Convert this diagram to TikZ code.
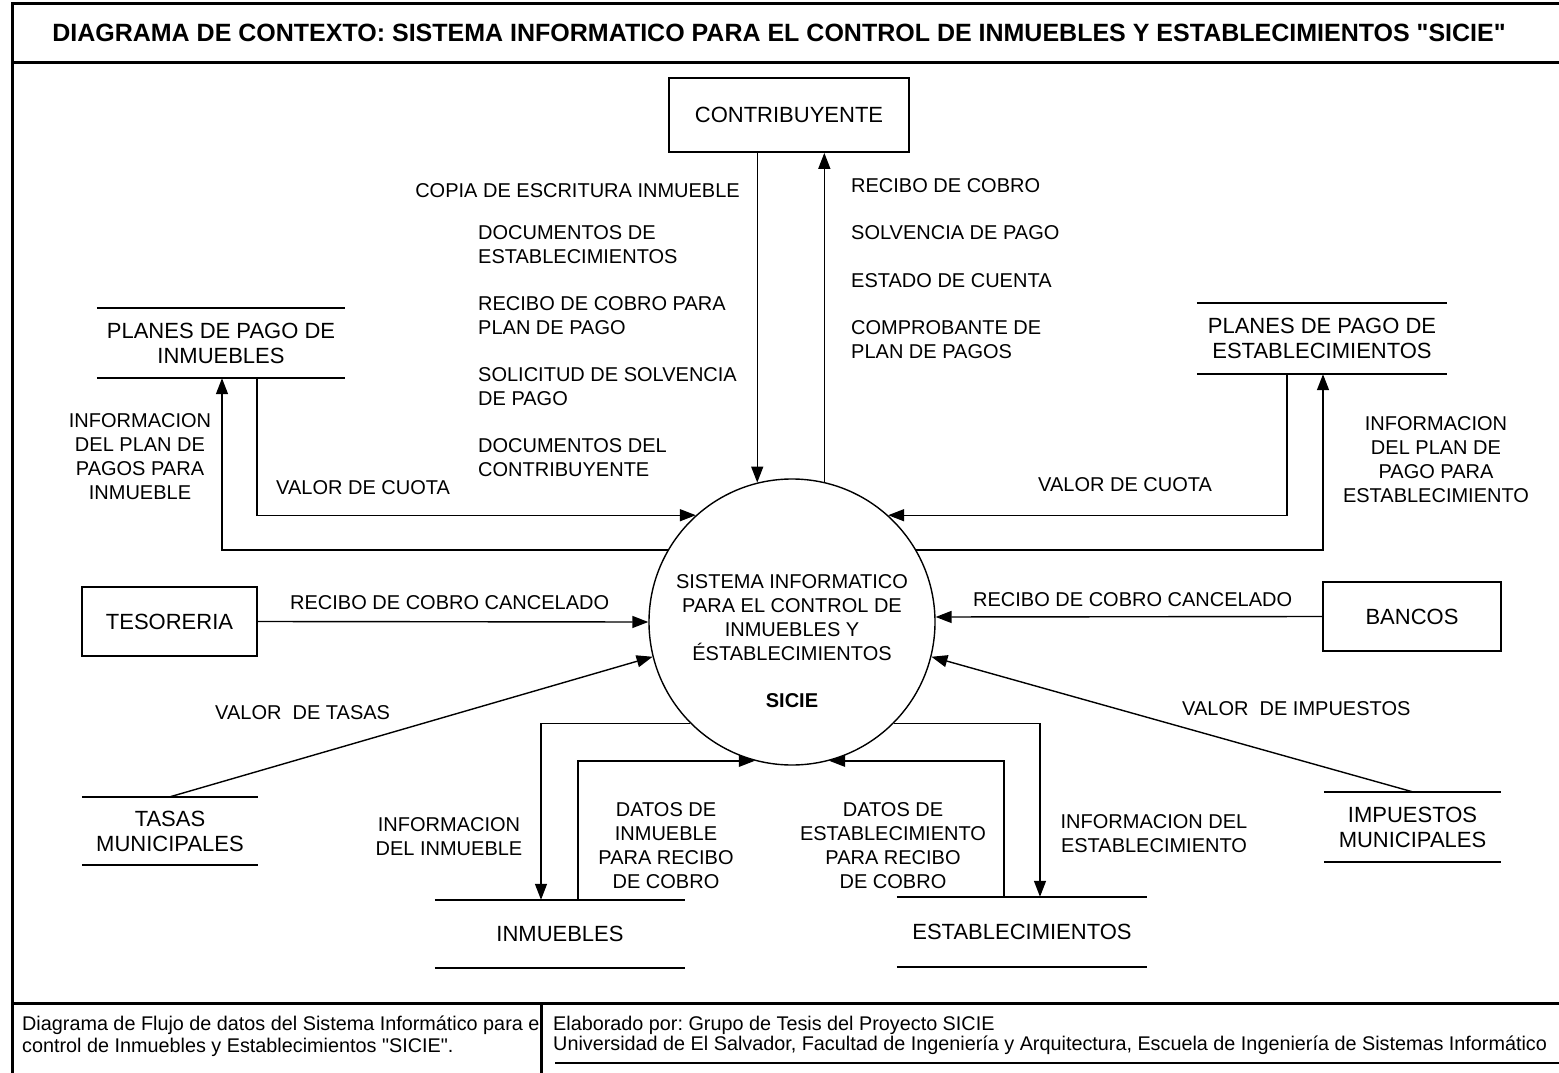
\documentclass[tikz,border=0pt]{standalone}
\usepackage{fontspec}
\setmainfont{Liberation Sans}
% same family without the TeX quote mapping, for straight double quotes
\newfontfamily\qtfont{Liberation Sans}
\usetikzlibrary{arrows.meta}
\frenchspacing

\newcommand{\sq}{{\qtfont\char34}}

\tikzset{
  frameline/.style={line width=3pt},
  entity/.style={draw, line width=1.8pt, inner sep=0pt, font=\fontsize{22}{25}\selectfont},
  store/.style={inner sep=0pt, align=center, font=\fontsize{22}{25}\selectfont},
  storeline/.style={line width=1.8pt},
  lbl/.style={inner sep=0pt, font=\fontsize{20}{24}\selectfont},
  flow/.style={line width=1.4pt, -{Triangle[length=16pt,width=12pt]}},
  foot/.style={inner sep=0pt, anchor=west, font=\fontsize{19.8}{22}\selectfont}
}

\begin{document}
\begin{tikzpicture}[x=1pt,y=-1pt]
\useasboundingbox (0,0) rectangle (1559,1073);

% outer frame, title bar and footer
\draw[frameline] (12,1073) -- (12,4) -- (1565,4);
\draw[frameline] (12,63) -- (1565,63);
\draw[frameline] (12,1003) -- (1565,1003);
\draw[frameline] (541,1003) -- (541,1073);
\draw[line width=1.5pt] (555,1063) -- (1565,1063);

\node[inner sep=0pt, font=\fontsize{25}{28}\selectfont\bfseries] (title) at (779,33)
  {DIAGRAMA DE CONTEXTO: SISTEMA INFORMATICO PARA EL CONTROL DE INMUEBLES Y ESTABLECIMIENTOS \sq SICIE\sq};

\node[foot] (f1) at (22,1025) {Diagrama de Flujo de datos del Sistema Informático para e};
\node[foot] (f2) at (22,1047) {control de Inmuebles y Establecimientos \sq SICIE\sq .};
\node[foot] (f3) at (553,1025) {Elaborado por: Grupo de Tesis del Proyecto SICIE};
\node[foot] (f4) at (553,1045) {Universidad de El Salvador, Facultad de Ingeniería y Arquitectura, Escuela de Ingeniería de Sistemas Informático};

% central process
\node[draw, circle, line width=1.4pt, minimum size=286pt, inner sep=0pt] (sicie) at (792,622) {};
\node[lbl, align=center] (sicietxt) at (792,618)
  {SISTEMA INFORMATICO\\PARA EL CONTROL DE\\INMUEBLES Y\\ÉSTABLECIMIENTOS};
\node[lbl, font=\fontsize{20}{24}\selectfont\bfseries] (siciename) at (792,701) {SICIE};

% external entities
\node[entity, minimum width=240pt, minimum height=74pt] (contrib) at (789,115) {CONTRIBUYENTE};
\node[entity, minimum width=175pt, minimum height=69pt] (teso) at (169.5,621.5) {TESORERIA};
\node[entity, minimum width=178pt, minimum height=69pt] (bancos) at (1412,616.5) {BANCOS};

% data stores
\node[store, minimum width=248pt, minimum height=70pt] (pinm) at (221,343) {PLANES DE PAGO DE\\INMUEBLES};
\node[store, minimum width=250pt, minimum height=71pt] (pest) at (1322,338.5) {PLANES DE PAGO DE\\ESTABLECIMIENTOS};
\node[store, minimum width=176pt, minimum height=68pt] (tasas) at (170,831) {TASAS\\MUNICIPALES};
\node[store, minimum width=177pt, minimum height=70pt] (impu) at (1412.5,827) {IMPUESTOS\\MUNICIPALES};
\node[store, minimum width=250pt, minimum height=68pt] (inm) at (560,934) {INMUEBLES};
\node[store, minimum width=250pt, minimum height=70pt] (est) at (1022,932) {ESTABLECIMIENTOS};

\foreach \s in {pinm,pest,tasas,impu,inm,est}{
  \draw[storeline] (\s.north west) -- (\s.north east);
  \draw[storeline] (\s.south west) -- (\s.south east);
}

% flows with the taxpayer
\draw[flow] (contrib.south -| sicie.104) -- (sicie.104);
\draw[flow] (sicie.77) -- (sicie.77 |- contrib.south);

\node[lbl, anchor=east] (l1) at (740,191) {COPIA DE ESCRITURA INMUEBLE};
\node[lbl, anchor=west, align=left] (l2) at (478,245) {DOCUMENTOS DE\\ESTABLECIMIENTOS};
\node[lbl, anchor=west, align=left] (l3) at (478,316) {RECIBO DE COBRO PARA\\PLAN DE PAGO};
\node[lbl, anchor=west, align=left] (l4) at (478,387) {SOLICITUD DE SOLVENCIA\\DE PAGO};
\node[lbl, anchor=west, align=left] (l5) at (478,458) {DOCUMENTOS DEL\\CONTRIBUYENTE};

\node[lbl, anchor=west] (r1) at (851,186) {RECIBO DE COBRO};
\node[lbl, anchor=west] (r2) at (851,233) {SOLVENCIA DE PAGO};
\node[lbl, anchor=west] (r3) at (851,281) {ESTADO DE CUENTA};
\node[lbl, anchor=west, align=left] (r4) at (851,339.5) {COMPROBANTE DE\\PLAN DE PAGOS};

% payment plans
\draw[flow] (sicie.150) -| ([xshift=1pt]pinm.south);
\draw[flow] ([xshift=36pt]pinm.south) |- (sicie.132);
\node[lbl, align=center] (l6) at (140,457) {INFORMACION\\DEL PLAN DE\\PAGOS PARA\\INMUEBLE};
\node[lbl, anchor=west] (l7) at (276,488) {VALOR DE CUOTA};

\draw[flow] ([xshift=-35pt]pest.south) |- (sicie.48);
\draw[flow] (sicie.30) -| ([xshift=1pt]pest.south);
\node[lbl, anchor=west] (r5) at (1038,485) {VALOR DE CUOTA};
\node[lbl, align=center] (r6) at (1436,459.5) {INFORMACION\\DEL PLAN DE\\PAGO PARA\\ESTABLECIMIENTO};

% treasury and banks
\draw[flow] (teso.east) -- (sicie.west);
\node[lbl, anchor=west] (l8) at (290,603) {RECIBO DE COBRO CANCELADO};
\draw[flow] (bancos.west) -- (sicie.2);
\node[lbl, anchor=west] (r7) at (973,600) {RECIBO DE COBRO CANCELADO};

% municipal rates and taxes
\draw[flow] (tasas.north) -- (sicie.194);
\node[lbl, anchor=west] (l9) at (215,713) {VALOR\ \ DE TASAS};
\draw[flow] (impu.north) -- (sicie.346);
\node[lbl, anchor=west] (r8) at (1182,709) {VALOR\ \ DE IMPUESTOS};

% properties and establishments
\draw[flow] (sicie.225) -| ([xshift=-19pt]inm.north);
\draw[flow] ([xshift=18pt]inm.north) |- (sicie.255);
\node[lbl, align=center] (l10) at (449,836.5) {INFORMACION\\DEL INMUEBLE};
\node[lbl, align=center] (l11) at (666,846) {DATOS DE\\INMUEBLE\\PARA RECIBO\\DE COBRO};

\draw[flow] ([xshift=-18pt]est.north) |- (sicie.285);
\draw[flow] (sicie.315) -| ([xshift=18pt]est.north);
\node[lbl, align=center] (r9) at (893,846) {DATOS DE\\ESTABLECIMIENTO\\PARA RECIBO\\DE COBRO};
\node[lbl, align=center] (r10) at (1154,833.5) {INFORMACION DEL\\ESTABLECIMIENTO};
\end{tikzpicture}
\end{document}
